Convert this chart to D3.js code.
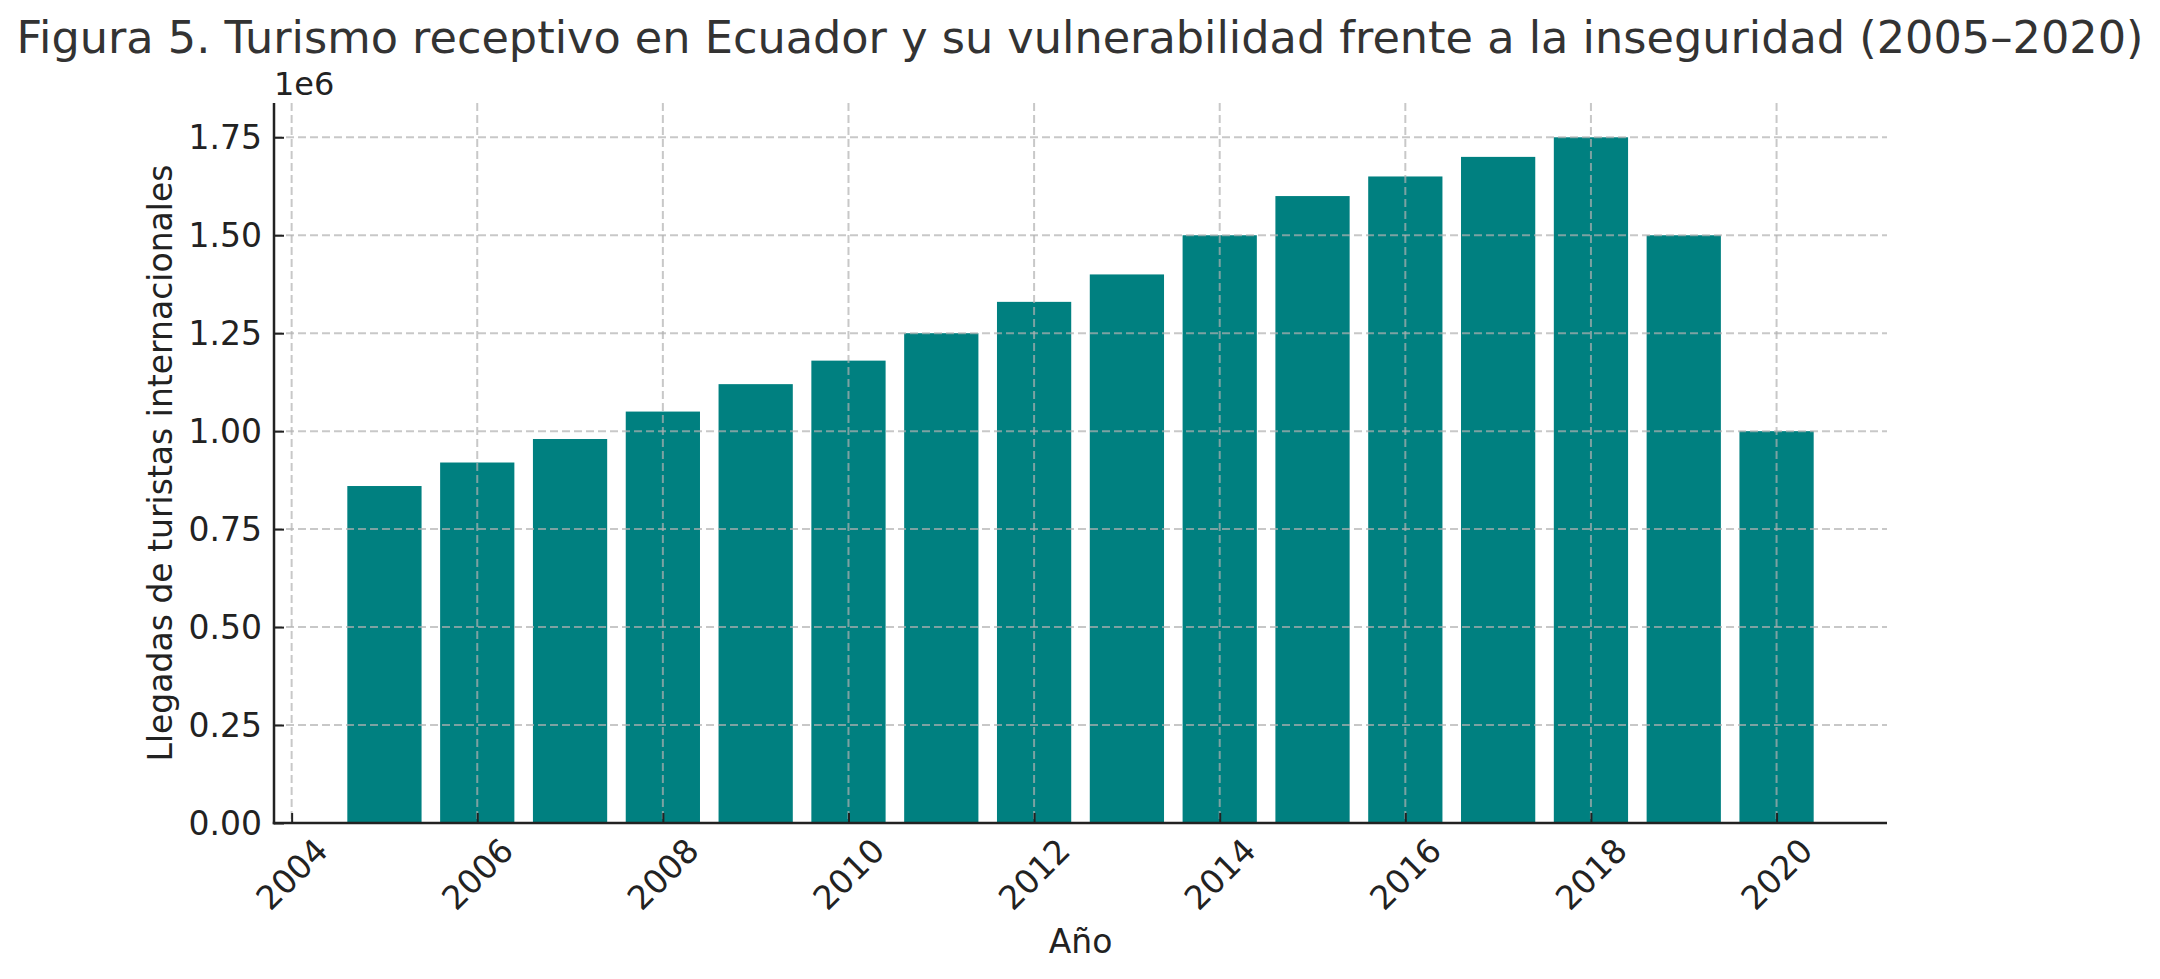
<!DOCTYPE html>
<html>

<head>
    <meta charset="UTF-8">
    <script src="https://d3js.org/d3.v7.min.js"></script>
    <style>
        body { margin: 0; background: #fff; }
        text { font-family: "DejaVu Sans", sans-serif; }
    </style>
</head>

<body>
    <svg></svg>

    <script>
        let width = 2160, height = 979;

        // data
        const years = [2005, 2006, 2007, 2008, 2009, 2010, 2011, 2012, 2013, 2014, 2015, 2016, 2017, 2018, 2019, 2020];
        const arrivals = [860000, 920000, 980000, 1050000, 1120000, 1180000, 1250000, 1330000, 1400000, 1500000,
            1600000, 1650000, 1700000, 1750000, 1500000, 1000000];
        const xTicks = [2004, 2006, 2008, 2010, 2012, 2014, 2016, 2018, 2020];
        const yTicks = [0, 0.25, 0.5, 0.75, 1.0, 1.25, 1.5, 1.75];

        const title = "Figura 5. Turismo receptivo en Ecuador y su vulnerabilidad frente a la inseguridad (2005–2020)";
        const xLabel = "Año";
        const yLabel = "Llegadas de turistas internacionales";

        let svg = d3.select("svg")
            .attr("width", width)
            .attr("height", height)
            .attr("viewBox", "0 0 " + width + " " + height);

        let mLeft = 274, mRight = 1887, mTop = 103, mBottom = 823;
        let barW = 0.8;

        // matplotlib style 5% margins
        let x0 = d3.min(years) - barW / 2, x1 = d3.max(years) + barW / 2;
        let mx = (x1 - x0) * 0.05;
        let x = d3.scaleLinear().domain([x0 - mx, x1 + mx]).range([mLeft, mRight]);
        let y = d3.scaleLinear().domain([0, d3.max(arrivals) * 1.05]).range([mBottom, mTop]);

        // bars
        svg.append("g")
            .selectAll("rect")
            .data(years)
            .enter()
            .append("rect")
            .attr("x", d => x(d - barW / 2))
            .attr("width", d => x(d + barW / 2) - x(d - barW / 2))
            .attr("y", (d, i) => y(arrivals[i]))
            .attr("height", (d, i) => y(0) - y(arrivals[i]))
            .attr("fill", "#008080");

        // grid on top of bars
        let grid = svg.append("g")
            .attr("stroke", "#b0b0b0")
            .attr("stroke-opacity", 0.7)
            .attr("stroke-width", 2)
            .attr("stroke-dasharray", "8,4");
        grid.selectAll(".vx")
            .data(xTicks)
            .enter()
            .append("line")
            .attr("x1", d => x(d)).attr("x2", d => x(d))
            .attr("y1", mTop).attr("y2", mBottom);
        grid.selectAll(".hy")
            .data(yTicks)
            .enter()
            .append("line")
            .attr("x1", mLeft).attr("x2", mRight)
            .attr("y1", d => y(d * 1e6)).attr("y2", d => y(d * 1e6));

        // axes, ticks pointing inward
        let xAxis = d3.axisTop(x).tickValues(xTicks).tickSize(10).tickFormat("");
        let yAxis = d3.axisRight(y).tickValues(yTicks.map(d => d * 1e6)).tickSize(10).tickFormat("");

        svg.append("g")
            .attr("transform", "translate(0," + mBottom + ")")
            .call(xAxis)
            .call(g => g.select(".domain").remove())
            .call(g => g.selectAll("line").attr("stroke", "#222").attr("stroke-width", 2));

        svg.append("g")
            .attr("transform", "translate(" + mLeft + ",0)")
            .call(yAxis)
            .call(g => g.select(".domain").remove())
            .call(g => g.selectAll("line").attr("stroke", "#222").attr("stroke-width", 2));

        // spines
        svg.append("line")
            .attr("x1", mLeft).attr("x2", mLeft).attr("y1", mTop).attr("y2", mBottom + 1.25)
            .attr("stroke", "#222").attr("stroke-width", 2.5);
        svg.append("line")
            .attr("x1", mLeft - 1.25).attr("x2", mRight).attr("y1", mBottom).attr("y2", mBottom)
            .attr("stroke", "#222").attr("stroke-width", 2.5);

        // y tick labels
        svg.append("g")
            .selectAll("text")
            .data(yTicks)
            .enter()
            .append("text")
            .attr("x", mLeft - 12)
            .attr("y", d => y(d * 1e6))
            .attr("dy", "0.36em")
            .attr("text-anchor", "end")
            .style("font-size", "33px")
            .attr("fill", "#222")
            .text(d => d3.format(".2f")(d));

        // x tick labels, rotated 45
        svg.append("g")
            .selectAll("text")
            .data(xTicks)
            .enter()
            .append("text")
            .attr("x", d => x(d))
            .attr("y", 874)
            .attr("dy", "0.36em")
            .attr("text-anchor", "middle")
            .attr("transform", d => "rotate(-45," + x(d) + ",874)")
            .style("font-size", "33px")
            .attr("fill", "#222")
            .text(d => d);

        // offset text
        svg.append("text")
            .attr("x", mLeft)
            .attr("y", 95)
            .style("font-size", "32px")
            .attr("fill", "#222")
            .text("1e6");

        // labels
        svg.append("text")
            .attr("x", (mLeft + mRight) / 2)
            .attr("y", 953)
            .attr("text-anchor", "middle")
            .style("font-size", "33px")
            .attr("fill", "#222")
            .text(xLabel);

        svg.append("text")
            .attr("transform", "translate(172," + (mTop + mBottom) / 2 + ") rotate(-90)")
            .attr("text-anchor", "middle")
            .style("font-size", "33px")
            .attr("fill", "#222")
            .text(yLabel);

        svg.append("text")
            .attr("x", width / 2)
            .attr("y", 53)
            .attr("text-anchor", "middle")
            .style("font-size", "44.6px")
            .attr("fill", "#333")
            .text(title);
    </script>

</body>

</html>
